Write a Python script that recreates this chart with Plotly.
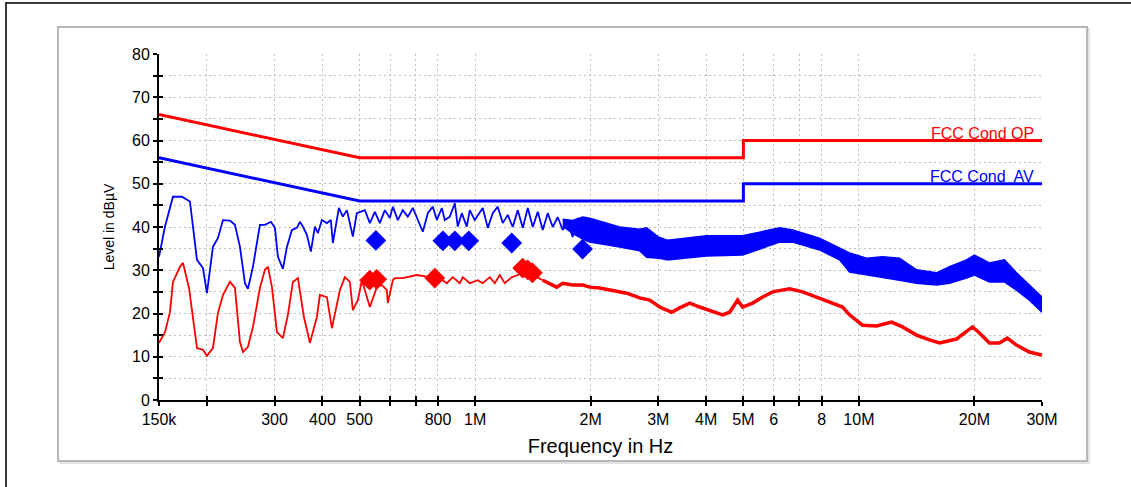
import math
import plotly.graph_objects as go

# ---------------- data (frequency in MHz, level in dBuV) ----------------
qp_freq = [0.15, 0.5, 5.0, 5.0, 30.0]
qp_level = [66, 56, 56, 60, 60]
av_freq = [0.15, 0.5, 5.0, 5.0, 30.0]
av_level = [56, 46, 46, 50, 50]

# blue (peak) scan, resolved part
blue_freq = [0.150, 0.1555, 0.1631, 0.1722, 0.1806, 0.1884, 0.1953, 0.2000, 0.2073, 0.2136,
             0.2202, 0.2296, 0.2366, 0.2438, 0.2512, 0.2558, 0.2636, 0.2748, 0.2832, 0.2936,
             0.3007, 0.3062, 0.3155, 0.3232, 0.3330, 0.3431, 0.3494, 0.3557, 0.3643, 0.3732,
             0.3822, 0.3892, 0.3986, 0.4108, 0.4207, 0.4258, 0.4414, 0.4521, 0.4631, 0.4715,
             0.4800, 0.4917, 0.5159, 0.5316, 0.5478, 0.5644, 0.5816, 0.5993, 0.6101, 0.6287,
             0.6478, 0.6675, 0.6879, 0.7305, 0.7527, 0.7755, 0.7945, 0.8186, 0.8335, 0.8588,
             0.8849, 0.9009, 0.9228, 0.9509, 0.9681, 0.9976, 1.028, 1.0466, 1.0786, 1.1114,
             1.1452, 1.180, 1.216, 1.2529, 1.2912, 1.3307, 1.3712, 1.4128, 1.4558, 1.500,
             1.5456, 1.5925, 1.6411, 1.6911, 1.7425, 1.7955, 1.8501, 1.907, 1.965, 2.0246]
blue_level = [33.1, 40.1, 47.0, 47.0, 45.9, 32.4, 30.5, 24.7, 35.4, 37.4,
              41.6, 41.5, 40.5, 35.4, 27.0, 25.7, 30.8, 40.5, 40.5, 41.2,
              39.8, 33.1, 30.3, 35.4, 39.3, 39.8, 41.2, 40.1, 38.2, 34.3,
              40.1, 38.6, 41.6, 40.9, 41.6, 36.3, 44.4, 42.4, 43.9, 40.9,
              37.8, 43.2, 43.9, 40.9, 43.5, 40.9, 43.9, 42.1, 44.7, 41.6,
              43.9, 42.4, 44.4, 38.9, 43.2, 44.7, 41.6, 44.4, 41.6, 42.4,
              45.5, 40.1, 43.2, 40.1, 43.9, 41.6, 43.5, 44.4, 39.8, 43.2,
              44.7, 40.9, 42.8, 40.0, 43.9, 39.8, 44.4, 40.0, 43.5, 39.3,
              43.2, 40.0, 42.3, 39.3, 41.2, 37.7, 42.1, 37.0, 40.9, 36.5]

# blue (peak) scan, dense part: upper / lower edge of the band
band_freq = [1.6911, 1.7955, 1.907, 1.989, 2.380, 2.683, 2.798, 3.000, 3.155, 3.212,
             4.010, 4.976, 6.213, 6.717, 7.897, 8.902, 9.454, 10.47, 11.52, 12.76,
             14.13, 15.93, 17.22, 19.07, 20.00, 21.89, 23.94, 25.74, 27.81, 30.00]
band_top = [41.8, 41.5, 42.3, 42.0, 40.0, 39.5, 39.8, 37.7, 37.0, 37.0,
            38.0, 38.0, 39.8, 39.3, 37.4, 35.1, 34.0, 32.8, 33.1, 32.8,
            30.1, 29.4, 30.8, 32.4, 33.5, 31.7, 32.4, 29.4, 26.6, 23.8]
band_bottom = [40.2, 38.5, 37.2, 36.5, 35.4, 34.5, 33.0, 32.8, 32.4, 32.4,
               33.3, 33.5, 36.5, 36.5, 34.7, 32.4, 29.6, 28.9, 28.4, 27.7,
               27.0, 26.6, 27.0, 28.2, 28.9, 27.3, 27.3, 25.4, 23.1, 20.3]

# red (average) scan
red_freq_low = [0.150, 0.1555, 0.1602, 0.1631, 0.1701, 0.1732, 0.1796, 0.1884, 0.1953, 0.2000,
                0.2073, 0.2136, 0.2202, 0.2296, 0.2366, 0.2438, 0.2483, 0.2558, 0.2636, 0.2748,
                0.2832, 0.2884, 0.2954, 0.3044, 0.3155, 0.3251, 0.3350, 0.3452, 0.3579, 0.3710,
                0.3869, 0.3939, 0.4108, 0.4233, 0.4441, 0.4575, 0.4715, 0.4800, 0.4946, 0.5067,
                0.5316, 0.5478, 0.5544, 0.5712, 0.5886, 0.5921, 0.6101, 0.6175, 0.6478, 0.7046,
                0.7617, 0.8089, 0.8435, 0.8744, 0.9118, 0.9284, 0.9681, 1.0157, 1.0466, 1.0916,
                1.1248, 1.159, 1.1943, 1.2454, 1.2912, 1.3307, 1.4471, 1.500]
red_level_low = [13.2, 15.7, 20.3, 27.3, 30.8, 31.7, 25.9, 12.0, 11.6, 10.2,
                 12.0, 20.1, 24.3, 27.3, 25.9, 13.4, 11.1, 12.3, 16.9, 25.9,
                 30.1, 30.8, 26.1, 15.7, 14.3, 19.7, 27.3, 28.2, 19.2, 13.2,
                 19.2, 24.3, 23.8, 16.6, 25.4, 28.4, 27.3, 20.8, 23.1, 27.7,
                 21.5, 24.7, 26.1, 26.6, 25.4, 22.4, 27.7, 28.2, 28.2, 28.9,
                 28.4, 28.2, 27.0, 28.4, 27.0, 28.4, 27.0, 27.7, 27.0, 28.4,
                 27.0, 28.9, 27.0, 28.4, 28.9, 29.6, 28.4, 27.7]
red_freq_high = [1.500, 1.5642, 1.6314, 1.6911, 1.7955, 1.907, 1.9887, 2.1114, 2.2827, 2.4825,
                 2.6832, 2.849, 3.025, 3.251, 3.411, 3.622, 3.845, 4.083, 4.415, 4.604,
                 4.829, 4.976, 5.286, 5.612, 5.958, 6.597, 7.132, 7.755, 8.385, 9.065,
                 9.454, 10.04, 10.22, 11.12, 12.16, 12.99, 14.13, 15.27, 16.22, 17.96,
                 19.07, 19.77, 20.61, 21.89, 23.23, 24.37, 25.74, 27.81, 30.00]
red_level_high = [27.7, 27.0, 26.1, 27.0, 26.6, 26.6, 26.1, 25.9, 25.4, 24.7,
                  23.6, 23.1, 21.5, 20.3, 21.3, 22.4, 21.5, 20.8, 19.7, 20.3,
                  23.1, 21.5, 22.4, 23.8, 25.0, 25.7, 25.0, 23.8, 22.7, 21.5,
                  19.7, 17.8, 17.3, 17.1, 18.0, 16.9, 15.0, 13.9, 13.2, 14.1,
                  15.7, 16.9, 15.5, 13.2, 13.2, 14.3, 12.7, 11.1, 10.4]

# final measurement markers
av_mark_freq = [0.551, 0.824, 0.885, 0.962, 1.245, 1.905]
av_mark_level = [36.9, 36.8, 36.8, 36.8, 36.3, 34.9]
qp_mark_freq = [0.531, 0.554, 0.785, 1.33, 1.37, 1.41]
qp_mark_level = [27.7, 27.9, 28.2, 30.5, 30.1, 29.4]

# axis ticks
x_tick_vals = [0.15, 0.2, 0.3, 0.4, 0.5, 0.6, 0.7, 0.8, 1, 2, 3, 4, 5, 6, 7, 8, 10, 20, 30]
x_tick_text = ["150k", "", "300", "400", "500", "", "", "800", "1M", "2M", "3M", "4M", "5M",
               "6", "", "8", "10M", "20M", "30M"]

# ---------------- figure ----------------
MHZ = 1e6
def hz(lst):
    return [v * MHZ for v in lst]

W, H = 1131, 487
ML, MR, MT, MB = 159, 89, 54, 87
def px_x(p):
    return (p - ML) / (W - ML - MR)
def px_y(p):
    return (H - MB - p) / (H - MT - MB)

RED = "#ff0000"
BLUE = "#0000ff"
FONT = "Liberation Sans, Arial, sans-serif"

fig = go.Figure()

fig.add_trace(go.Scatter(x=hz(band_freq + band_freq[::-1]), y=band_top + band_bottom[::-1],
                         mode="lines", fill="toself", fillcolor=BLUE,
                         line=dict(color=BLUE, width=1.5), hoverinfo="skip"))
fig.add_trace(go.Scatter(x=hz(blue_freq), y=blue_level, mode="lines",
                         line=dict(color=BLUE, width=1.8)))
fig.add_trace(go.Scatter(x=hz(red_freq_low), y=red_level_low, mode="lines",
                         line=dict(color=RED, width=1.8)))
fig.add_trace(go.Scatter(x=hz(red_freq_high), y=red_level_high, mode="lines",
                         line=dict(color=RED, width=3.5)))
fig.add_trace(go.Scatter(x=hz(qp_freq), y=qp_level, mode="lines",
                         line=dict(color=RED, width=3)))
fig.add_trace(go.Scatter(x=hz(av_freq), y=av_level, mode="lines",
                         line=dict(color=BLUE, width=3)))
fig.add_trace(go.Scatter(x=hz(av_mark_freq), y=av_mark_level, mode="markers",
                         marker=dict(symbol="diamond", size=16, color=BLUE),
                         xaxis="x2", yaxis="y2"))
fig.add_trace(go.Scatter(x=hz(qp_mark_freq), y=qp_mark_level, mode="markers",
                         marker=dict(symbol="diamond", size=16, color=RED),
                         xaxis="x2", yaxis="y2"))

xrange = [math.log10(0.15 * MHZ), math.log10(30 * MHZ)]
grid = "#bdbdbd"
gdash = "2px,3px"
common_x = dict(type="log", range=xrange, tickmode="array", tickvals=hz(x_tick_vals),
                zeroline=False, tickcolor="black", tickwidth=2, ticklen=4)
common_y = dict(range=[0, 80], zeroline=False, tickcolor="black", tickwidth=2, ticklen=4)

fig.update_layout(
    width=W, height=H,
    margin=dict(l=ML, r=MR, t=MT, b=MB, autoexpand=False),
    paper_bgcolor="white", plot_bgcolor="rgba(0,0,0,0)",
    showlegend=False,
    font=dict(family=FONT, color="black", size=14),
    xaxis=dict(**common_x, ticktext=x_tick_text, ticks="outside",
               showline=True, linecolor="black", linewidth=2,
               showgrid=True, gridcolor=grid, griddash=gdash, gridwidth=1,
               tickfont=dict(size=16),
               title=dict(text="Frequency in Hz", font=dict(size=20), standoff=12)),
    yaxis=dict(**common_y, tick0=0, dtick=10, ticks="outside",
               showline=True, linecolor="black", linewidth=2,
               showgrid=True, gridcolor=grid, griddash=gdash, gridwidth=1,
               minor=dict(tick0=0, dtick=5, ticks="outside", ticklen=4, tickwidth=2,
                          tickcolor="black", showgrid=True, gridcolor=grid,
                          griddash=gdash, gridwidth=1),
               tickfont=dict(size=16),
               title=dict(text="Level in dBµV", font=dict(size=14), standoff=14)),
    xaxis2=dict(**common_x, overlaying="x", anchor="y2", side="bottom", ticks="inside",
                showticklabels=False, showgrid=False, showline=False),
    yaxis2=dict(**common_y, overlaying="y", anchor="x2", side="left", ticks="inside",
                tick0=0, dtick=5, showticklabels=False, showgrid=False, showline=False),
    annotations=[
        dict(x=math.log10(30 * MHZ), y=60, xref="x", yref="y", text="FCC Cond QP",
             showarrow=False, xanchor="right", yanchor="bottom", xshift=-6, yshift=-3,
             font=dict(size=16, color=RED, family=FONT)),
        dict(x=math.log10(30 * MHZ), y=50, xref="x", yref="y", text="FCC Cond  AV",
             showarrow=False, xanchor="right", yanchor="bottom", xshift=-6, yshift=-3,
             font=dict(size=16, color=BLUE, family=FONT)),
    ],
    shapes=[
        dict(type="rect", xref="paper", yref="paper", layer="below",
             x0=px_x(6), y0=px_y(3), x1=px_x(1150), y1=px_y(500),
             line=dict(color="#3a3a3a", width=2)),
        dict(type="rect", xref="paper", yref="paper", layer="below",
             x0=px_x(60), y0=px_y(29), x1=px_x(1089), y1=px_y(463),
             line=dict(color="#e2e2e2", width=2)),
        dict(type="rect", xref="paper", yref="paper", layer="below",
             x0=px_x(58), y0=px_y(27), x1=px_x(1087), y1=px_y(461),
             line=dict(color="#b8b8b8", width=2), fillcolor="white"),
    ],
)

fig.write_html("out.html")
